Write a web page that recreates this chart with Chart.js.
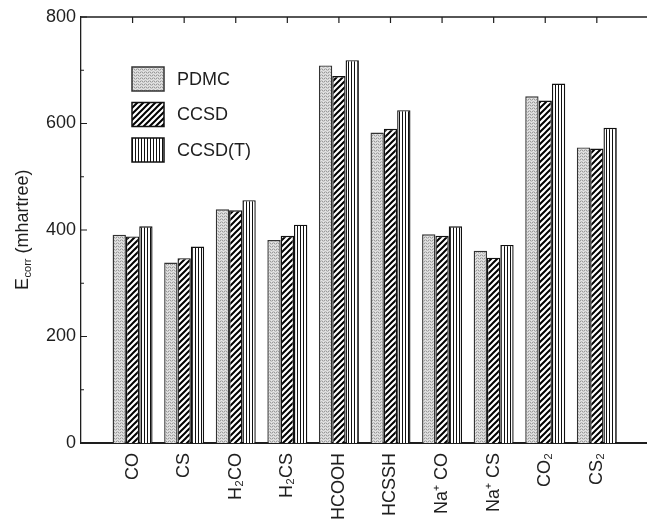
<!DOCTYPE html>
<html><head><meta charset="utf-8">
<script src="https://cdn.jsdelivr.net/npm/chart.js@4.4.1/dist/chart.umd.min.js"></script>
<style>
html,body{margin:0;padding:0;overflow:hidden;background:#fff;width:647px;height:528px}
#wrap{width:680px;height:528px}
canvas{display:block}
</style></head>
<body><div id="wrap"><canvas id="c" width="680" height="528" style="width:680px;height:528px"></canvas></div>
<script>
// ---- data ----
const categories = ['CO','CS','H₂CO','H₂CS','HCOOH','HCSSH','Na⁺ CO','Na⁺ CS','CO₂','CS₂'];
const seriesNames = ['PDMC','CCSD','CCSD(T)'];
const pdmc  = [391, 339, 439, 381, 709, 583, 392, 361, 651, 555];
const ccsd  = [388, 347, 437, 389, 689, 590, 389, 348, 643, 553];
const ccsdT = [407, 369, 456, 410, 719, 625, 407, 372, 675, 592];
const yMajorTicks = [0, 200, 400, 600, 800];
const yMinorTicks = [100, 300, 500, 700];
const yTitleMain = 'E';
const yTitleSub = 'corr';
const yTitleRest = ' (mhartree)';

const FONT = '"Liberation Sans", Arial, Helvetica, sans-serif';
const INK = '#1e1e1e';

// ---- patterns ----
function stipple(){
  const c=document.createElement('canvas'); c.width=4; c.height=3;
  const g=c.getContext('2d');
  g.fillStyle='#d6d6d6'; g.fillRect(0,0,4,3);
  g.fillStyle='#999999'; g.fillRect(0,0,1,1); g.fillRect(2,0,1,1);
  g.fillStyle='#bcbcbc'; g.fillRect(1,2,1,1); g.fillRect(3,1,1,1);
  g.fillStyle='#e8e8e8'; g.fillRect(1,1,1,1); g.fillRect(3,2,1,1);
  return g.createPattern(c,'repeat');
}
function diag(){
  const c=document.createElement('canvas'); c.width=6; c.height=6;
  const g=c.getContext('2d');
  g.fillStyle='#fff'; g.fillRect(0,0,6,6);
  g.strokeStyle='#000'; g.lineWidth=2.0;
  g.beginPath();
  g.moveTo(0,6); g.lineTo(6,0);
  g.moveTo(-1,1); g.lineTo(1,-1);
  g.moveTo(5,7); g.lineTo(7,5);
  g.stroke();
  return g.createPattern(c,'repeat');
}
function vert(){
  const c=document.createElement('canvas'); c.width=3; c.height=2;
  const g=c.getContext('2d');
  g.fillStyle='#fff'; g.fillRect(0,0,3,2);
  g.fillStyle='#111'; g.fillRect(0,0,1,2);
  return g.createPattern(c,'repeat');
}
const fills = [stipple(), diag(), vert()];
const borders = ['#333','#111','#111'];

// padded category axis: one empty slot on each side
const labels = [''].concat(categories, ['']);
const pad = arr => [null].concat(arr, [null]);
const series = [pdmc, ccsd, ccsdT];

const decor = {
  id:'decor',
  afterDraw(chart){
    const {ctx, chartArea:a, scales:{x,y}} = chart;
    ctx.save();
    ctx.strokeStyle = INK;
    // top frame line
    ctx.lineWidth = 1.3;
    ctx.beginPath(); ctx.moveTo(a.left, a.top); ctx.lineTo(a.right, a.top); ctx.stroke();
    // inward y ticks
    ctx.lineWidth = 1.2;
    ctx.beginPath();
    yMajorTicks.forEach(v=>{ const py=y.getPixelForValue(v); ctx.moveTo(a.left, py); ctx.lineTo(a.left+6, py); });
    yMinorTicks.forEach(v=>{ const py=y.getPixelForValue(v); ctx.moveTo(a.left, py); ctx.lineTo(a.left+3, py); });
    // inward top ticks at category centres
    categories.forEach((_,i)=>{ const px=x.getPixelForValue(i+1); ctx.moveTo(px, a.top); ctx.lineTo(px, a.top+6); });
    ctx.stroke();

    // legend
    const lx = a.left + 51, ly = a.top + 50, bw = 32, bh = 24, step = 35.5;
    ctx.font = '18px ' + FONT; ctx.textBaseline = 'middle'; ctx.textAlign = 'left';
    chart.data.datasets.forEach((ds,i)=>{
      const by = ly + i*step;
      ctx.fillStyle = ds.backgroundColor; ctx.fillRect(lx, by, bw, bh);
      ctx.lineWidth = 1.5; ctx.strokeStyle = ds.borderColor; ctx.strokeRect(lx, by, bw, bh);
      ctx.fillStyle = INK; ctx.fillText(ds.label, lx + bw + 13, by + bh/2 + 1);
    });

    // y title with subscript
    const cy = (a.top + a.bottom)/2;
    ctx.translate(22, cy); ctx.rotate(-Math.PI/2);
    ctx.font = '18px ' + FONT;
    const wE = ctx.measureText(yTitleMain).width;
    const wR = ctx.measureText(yTitleRest).width;
    ctx.font = '11px ' + FONT;
    const wS = ctx.measureText(yTitleSub).width;
    let tx = -(wE + wS + wR)/2;
    ctx.fillStyle = INK; ctx.textBaseline = 'alphabetic'; ctx.textAlign = 'left';
    ctx.font = '18px ' + FONT; ctx.fillText(yTitleMain, tx, 6); tx += wE;
    ctx.font = '11px ' + FONT; ctx.fillText(yTitleSub, tx + 0.5, 9); tx += wS + 0.5;
    ctx.font = '18px ' + FONT; ctx.fillText(yTitleRest, tx, 6);
    ctx.restore();
  }
};

new Chart(document.getElementById('c'), {
  type:'bar',
  data:{
    labels: labels,
    datasets: series.map((s,i)=>({
      label: seriesNames[i],
      data: pad(s),
      backgroundColor: fills[i],
      borderColor: borders[i],
      borderWidth: 1.4,
      borderSkipped: 'bottom',
      barPercentage: 1.0,
      categoryPercentage: 0.775
    }))
  },
  options:{
    responsive:false,
    animation:false,
    devicePixelRatio:1,
    layout:{padding:{left:0, top:17, right:24, bottom:0}},
    plugins:{legend:{display:false}, tooltip:{enabled:false}, title:{display:false}},
    scales:{
      x:{
        type:'category',
        offset:false,
        grid:{display:false, drawTicks:false, offset:false},
        border:{display:true, color:INK, width:2},
        ticks:{autoSkip:false, maxRotation:90, minRotation:90, padding:10,
               color:INK, font:{family:FONT, size:18}},
        afterFit(scale){ scale.height = 85; }
      },
      y:{
        min:0, max:800,
        grid:{display:false, drawTicks:false},
        border:{display:true, color:INK, width:1.3},
        ticks:{stepSize:200, padding:5, color:INK, font:{family:FONT, size:18}},
        afterFit(scale){ scale.width = 81; }
      }
    }
  },
  plugins:[decor]
});
</script>
</body></html>
